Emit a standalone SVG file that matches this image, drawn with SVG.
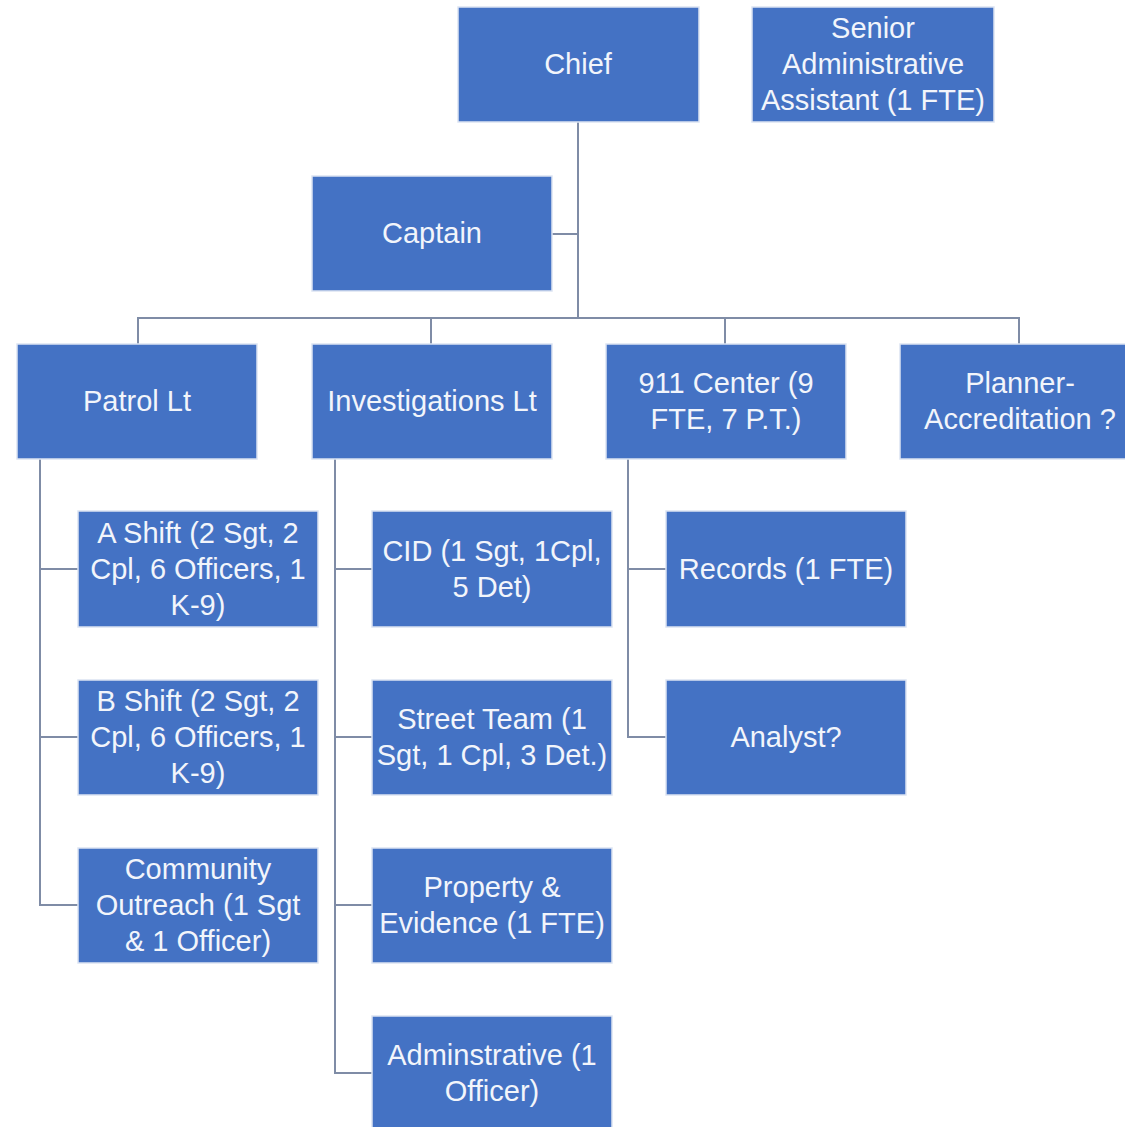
<svg xmlns="http://www.w3.org/2000/svg" width="1125" height="1127" viewBox="0 0 1125 1127">
<style>
.box{fill:#4472C4;stroke:#DCE4F2;stroke-width:1.5}
.t{font-family:"Liberation Sans",Arial,sans-serif;font-size:29px;fill:#F2F5FB;text-anchor:middle}
.c{fill:none;stroke:#7F8CA6;stroke-width:2}
</style>
<rect width="1125" height="1127" fill="#FFFFFF"/>
<g id="connectors">
<path class="c" d="M578 122V318M552 234H578M138 344V318H1019V344M431 318V344M725 318V344"/>
<path class="c" d="M40 459V905H78M40 569H78M40 737H78"/>
<path class="c" d="M335 459V1073H372M335 569H372M335 737H372M335 905H372"/>
<path class="c" d="M628 459V737H666M628 569H666"/>
</g>
<g id="chief"><rect class="box" x="458" y="7" width="241" height="115"/><text class="t" x="578" y="74">Chief</text></g>
<g id="senior-admin"><rect class="box" x="752" y="7" width="242" height="115"/><text class="t" x="873" y="38">Senior</text><text class="t" x="873" y="74">Administrative</text><text class="t" x="873" y="110">Assistant (1 FTE)</text></g>
<g id="captain"><rect class="box" x="312" y="176" width="240" height="115"/><text class="t" x="432" y="243">Captain</text></g>
<g id="patrol-lt"><rect class="box" x="17" y="344" width="240" height="115"/><text class="t" x="137" y="411">Patrol Lt</text></g>
<g id="investigations-lt"><rect class="box" x="312" y="344" width="240" height="115"/><text class="t" x="432" y="411">Investigations Lt</text></g>
<g id="center-911"><rect class="box" x="606" y="344" width="240" height="115"/><text class="t" x="726" y="393">911 Center (9</text><text class="t" x="726" y="429">FTE, 7 P.T.)</text></g>
<g id="planner"><rect class="box" x="900" y="344" width="240" height="115"/><text class="t" x="1020" y="393">Planner-</text><text class="t" x="1020" y="429">Accreditation ?</text></g>
<g id="a-shift"><rect class="box" x="78" y="511" width="240" height="116"/><text class="t" x="198" y="543">A Shift (2 Sgt, 2</text><text class="t" x="198" y="579">Cpl, 6 Officers, 1</text><text class="t" x="198" y="615">K-9)</text></g>
<g id="b-shift"><rect class="box" x="78" y="680" width="240" height="115"/><text class="t" x="198" y="711">B Shift (2 Sgt, 2</text><text class="t" x="198" y="747">Cpl, 6 Officers, 1</text><text class="t" x="198" y="783">K-9)</text></g>
<g id="community"><rect class="box" x="78" y="848" width="240" height="115"/><text class="t" x="198" y="879">Community</text><text class="t" x="198" y="915">Outreach (1 Sgt</text><text class="t" x="198" y="951">&amp; 1 Officer)</text></g>
<g id="cid"><rect class="box" x="372" y="511" width="240" height="116"/><text class="t" x="492" y="561">CID (1 Sgt, 1Cpl,</text><text class="t" x="492" y="597">5 Det)</text></g>
<g id="street-team"><rect class="box" x="372" y="680" width="240" height="115"/><text class="t" x="492" y="729">Street Team (1</text><text class="t" x="492" y="765">Sgt, 1 Cpl, 3 Det.)</text></g>
<g id="property"><rect class="box" x="372" y="848" width="240" height="115"/><text class="t" x="492" y="897">Property &amp;</text><text class="t" x="492" y="933">Evidence (1 FTE)</text></g>
<g id="administrative"><rect class="box" x="372" y="1016" width="240" height="115"/><text class="t" x="492" y="1065">Adminstrative (1</text><text class="t" x="492" y="1101">Officer)</text></g>
<g id="records"><rect class="box" x="666" y="511" width="240" height="116"/><text class="t" x="786" y="579">Records (1 FTE)</text></g>
<g id="analyst"><rect class="box" x="666" y="680" width="240" height="115"/><text class="t" x="786" y="747">Analyst?</text></g>
</svg>
